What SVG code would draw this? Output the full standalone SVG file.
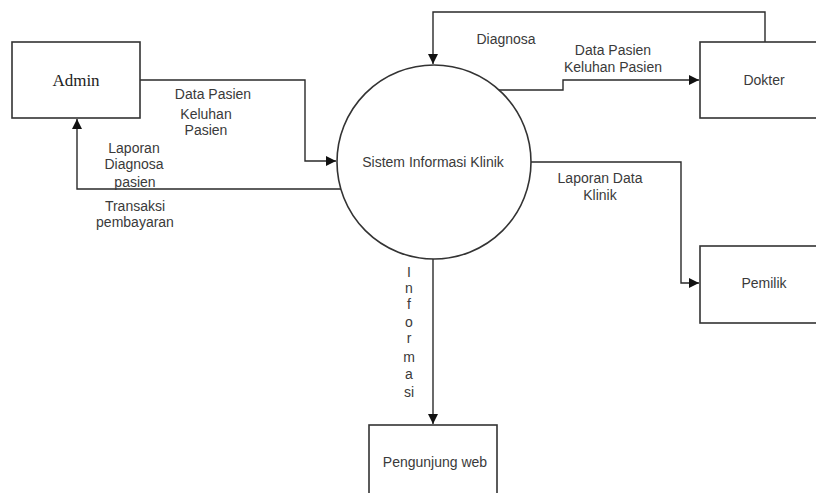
<svg xmlns="http://www.w3.org/2000/svg" width="816" height="493" viewBox="0 0 816 493">
<style>
.box{fill:#fff;stroke:#333;stroke-width:1.6}
.ln{fill:none;stroke:#2a2a2a;stroke-width:1.4}
.t{font-family:"Liberation Sans",Arial,sans-serif;font-size:14px;fill:#3a3a3a;text-anchor:middle}
.s{font-family:"Liberation Serif","Times New Roman",serif;font-size:17px;fill:#222;text-anchor:middle}
</style>
<defs>
<marker id="ar" viewBox="0 0 10 10" refX="10" refY="5" markerWidth="10" markerHeight="10" markerUnits="userSpaceOnUse" orient="auto">
<path d="M0,0 L10,5 L0,10 z" fill="#111"/>
</marker>
</defs>
<rect width="816" height="493" fill="#fff"/>
<g id="connectors">
<path class="ln" d="M140,80 H305 V161 H336" marker-end="url(#ar)"/>
<path class="ln" d="M341,189 H77 V119" marker-end="url(#ar)"/>
<path class="ln" d="M765,42 V12 H433 V64" marker-end="url(#ar)"/>
<path class="ln" d="M499,90 H563 V80 H699" marker-end="url(#ar)"/>
<path class="ln" d="M531,162 H681 V283 H699" marker-end="url(#ar)"/>
<path class="ln" d="M433,259 V424" marker-end="url(#ar)"/>
<text class="t" x="213" y="99">Data Pasien</text>
<text class="t" x="206" y="119">Keluhan</text>
<text class="t" x="206" y="135">Pasien</text>
<text class="t" x="134" y="153">Laporan</text>
<text class="t" x="134" y="169">Diagnosa</text>
<text class="t" x="135" y="187">pasien</text>
<text class="t" x="135" y="211">Transaksi</text>
<text class="t" x="135" y="227">pembayaran</text>
<text class="t" x="506" y="44">Diagnosa</text>
<text class="t" x="613" y="55">Data Pasien</text>
<text class="t" x="613" y="72">Keluhan Pasien</text>
<text class="t" x="600" y="183">Laporan Data</text>
<text class="t" x="600" y="200">Klinik</text>
<text class="t" x="409" y="277">I</text>
<text class="t" x="409" y="293">n</text>
<text class="t" x="409" y="309">f</text>
<text class="t" x="409" y="327">o</text>
<text class="t" x="409" y="343">r</text>
<text class="t" x="409" y="362">m</text>
<text class="t" x="409" y="379">a</text>
<text class="t" x="409" y="397">si</text>
</g>
<g id="admin">
<rect class="box" x="12" y="42" width="128" height="76"/>
<text class="s" x="76" y="86">Admin</text>
</g>
<g id="sistem">
<circle class="box" cx="434" cy="162" r="97"/>
<text class="t" x="433" y="167">Sistem Informasi Klinik</text>
</g>
<g id="dokter">
<rect class="box" x="700" y="42" width="130" height="76"/>
<text class="t" x="764" y="85">Dokter</text>
</g>
<g id="pemilik">
<rect class="box" x="700" y="246" width="130" height="77"/>
<text class="t" x="764" y="288">Pemilik</text>
</g>
<g id="pengunjung">
<rect class="box" x="369" y="425" width="128" height="80"/>
<text class="t" x="435" y="467">Pengunjung web</text>
</g>
</svg>
